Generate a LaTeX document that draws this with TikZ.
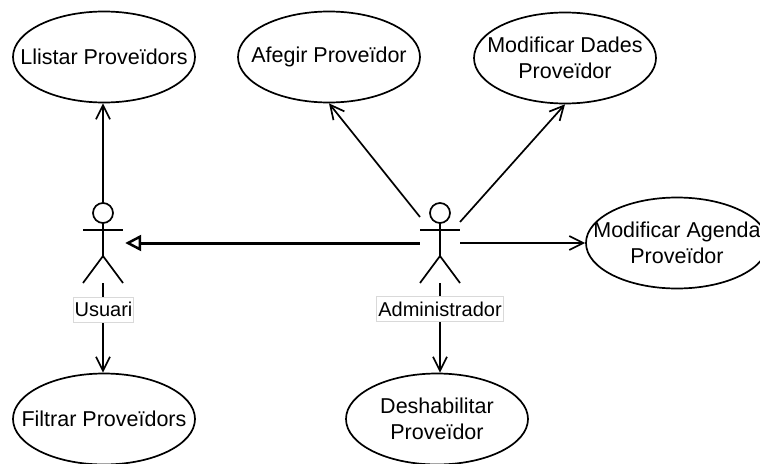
\documentclass[tikz,border=0pt]{standalone}
\usepackage{fontspec}
\setmainfont{Liberation Sans}
\usetikzlibrary{shapes.geometric,arrows.meta}
\tikzset{
  uc/.style={ellipse, draw, line width=1.7pt, minimum width=182pt, minimum height=91pt,
    inner sep=-45pt, align=center, font=\fontsize{21.5}{26}\selectfont},
  conn/.style={line width=1.7pt, -{Straight Barb[length=14pt,width=14pt]}},
  gen/.style={line width=3pt, -{Triangle[open,length=16pt,width=16pt,line width=2.5pt]}},
  actorbox/.style={minimum width=40pt, minimum height=80pt, inner sep=0pt},
  albl/.style={fill=white, draw=black!15, line width=0.8pt, inner xsep=1.5pt, inner ysep=0pt,
    minimum height=25pt, font=\fontsize{20}{24}\selectfont},
  stick/.style={line width=1.7pt},
  actorfig/.pic={
    \draw[stick] (0,-30) circle [radius=10pt];
    \draw[stick] (-20,-13) -- (20,-13);
    \draw[stick] (0,-20) -- (0,13);
    \draw[stick] (-20,40) -- (0,13) -- (20,40);
  }
}
\begin{document}
\begin{tikzpicture}[x=1pt,y=-1pt]
\useasboundingbox (0,0) rectangle (760,463);
\clip (0,0) rectangle (760,463);
% use cases
\node[uc] (llistar) at (104,57) {Llistar Proveïdors};
\node[uc] (afegir) at (329,57) {Afegir Proveïdor};
\node[uc] (dades) at (565,58) {Modificar Dades\\Proveïdor};
\node[uc] (agenda) at (677,243) {Modificar Agenda\\Proveïdor};
\node[uc] (filtrar) at (104,419) {Filtrar Proveïdors};
\node[uc] (desh) at (437,419) {Deshabilitar\\Proveïdor};
% actors
\node[actorbox] (usuari) at (103,243) {};
\node[actorbox] (admin) at (440,243) {};
\pic at (usuari.center) {actorfig};
\pic at (admin.center) {actorfig};
\coordinate (adminul) at (420,217);
\coordinate (adminur) at (460,222);
% connectors
\draw[conn] (usuari.north) -- (usuari.north |- llistar.south);
\draw[conn] (usuari.south) -- (usuari.south |- filtrar.north);
\draw[conn] (adminul) -- (afegir.south);
\draw[conn] (adminur) -- (dades.south);
\draw[conn] (admin.east) -- (agenda.west);
\draw[conn] (admin.south) -- (admin.south |- desh.north);
\draw[gen] (admin.west) -- ([xshift=2pt]usuari.east);
% actor labels
\node[albl] (usuarilbl) at (103.5,309.5) {Usuari};
\node[albl] (adminlbl) at (440,309) {Administrador};
\end{tikzpicture}
\end{document}
